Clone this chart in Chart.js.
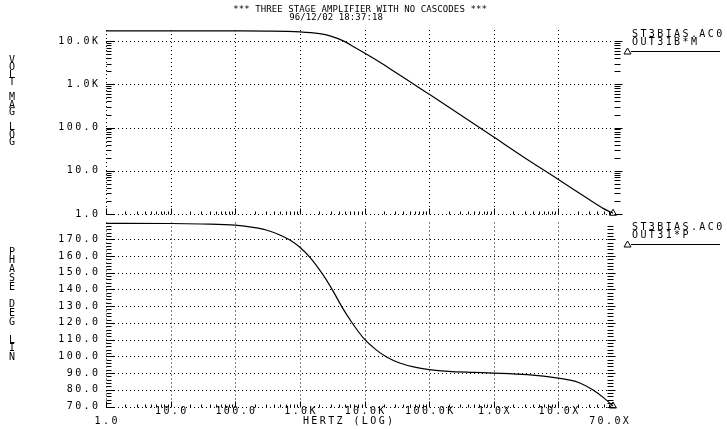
<!DOCTYPE html>
<html>
<head>
<meta charset="utf-8">
<script src="https://cdn.jsdelivr.net/npm/chart.js@4/dist/chart.umd.min.js"></script>
<style>
  html, body { margin: 0; padding: 0; background: #fff; }
  body { width: 727px; height: 429px; position: relative; overflow: hidden; }
  canvas { position: absolute; left: 0; top: 0; }
</style>
</head>
<body>
<canvas id="magChart" width="727" height="429"></canvas>
<canvas id="phaseChart" width="727" height="429"></canvas>
<script>
// values
const magFreq = [1, 10, 100, 300, 1e3, 2e3, 3e3, 4.6e3, 7e3, 1e4, 1.5e4, 2e4, 3e4, 5.5e4, 1e5, 2e5, 1e6, 3e6, 1e7, 3e7, 5e7, 7e7];
const magValue = [17200, 17150, 17100, 17000, 16300, 14800, 13000, 10200, 7200, 5300, 3700, 2820, 1900, 1050, 590, 300, 60, 20, 6.3, 2.16, 1.33, 1.04];

const phaseFreq = [1, 10, 30, 100, 200, 300, 500, 700, 1e3, 1.5e3, 2.3e3, 3.3e3, 4.4e3, 6.3e3, 9.5e3, 1.5e4, 2.2e4, 3.5e4, 6e4, 1e5, 2e5, 5e5, 1e6, 3.3e6, 1e7, 1.5e7, 2.1e7, 3.4e7, 5.1e7, 7e7];
const phaseValue = [179.5, 179.4, 179.1, 178.4, 176.9, 175.5, 172.4, 169.5, 165.2, 158.3, 148.5, 138.7, 130, 120.5, 111.2, 104, 99.6, 96, 93.5, 92.1, 91, 90.4, 90, 89, 87, 85.8, 84.2, 80, 75, 70.3];

const xTicks = [1, 10, 100, 1e3, 1e4, 1e5, 1e6, 1e7];
const xTickLabels = ['1.0', '10.0', '100.0', '1.0K', '10.0K', '100.0K', '1.0X', '10.0X'];
const magTicks = [1, 10, 100, 1e3, 1e4];
const magTickLabels = ['1.0', '10.0', '100.0', '1.0K', '10.0K'];
const phaseTicks = [70, 80, 90, 100, 110, 120, 130, 140, 150, 160, 170];
const phaseTickLabels = ['70.0', '80.0', '90.0', '100.0', '110.0', '120.0', '130.0', '140.0', '150.0', '160.0', '170.0'];

const FONT = '"DejaVu Sans Mono", "Liberation Mono", monospace';

// draw text one char at a time so it gets the wide plotter spacing
function spaced(ctx, text, x, y, size, gap, align) {
  ctx.font = size + 'px ' + FONT;
  ctx.textBaseline = 'middle';
  ctx.textAlign = 'left';
  let w = 0;
  for (const ch of text) w += ctx.measureText(ch).width + gap;
  w -= gap;
  let cx = align === 'right' ? x - w : align === 'center' ? x - w / 2 : x;
  for (const ch of text) {
    ctx.fillText(ch, cx, y);
    cx += ctx.measureText(ch).width + gap;
  }
}

function vertical(ctx, text, x, y, pitch) {
  ctx.font = '10px ' + FONT;
  ctx.textBaseline = 'middle';
  ctx.textAlign = 'center';
  let cy = y;
  for (const ch of text) {
    if (ch !== ' ') ctx.fillText(ch, x, cy);
    cy += pitch;
  }
}

function logMinors(min, max) {
  const out = [];
  for (let d = Math.floor(Math.log10(min)); d <= Math.ceil(Math.log10(max)); d++) {
    for (let m = 2; m <= 9; m++) {
      const v = m * Math.pow(10, d);
      if (v > min && v < max) out.push(v);
    }
  }
  return out;
}

const plotter = {
  id: 'plotter',
  beforeDatasetsDraw(chart, args, opts) {
    const { ctx, chartArea: a } = chart;
    const xs = chart.scales.x, ys = chart.scales.y;
    ctx.save();
    ctx.strokeStyle = '#000';
    ctx.lineWidth = 1;
    // dotted grid
    ctx.setLineDash([1, 3]);
    ctx.beginPath();
    xTicks.forEach(v => {
      const px = Math.round(xs.getPixelForValue(v)) + 0.5;
      ctx.moveTo(px, a.top);
      ctx.lineTo(px, a.bottom);
    });
    opts.yTicks.forEach(v => {
      const py = Math.round(ys.getPixelForValue(v)) + 0.5;
      ctx.moveTo(a.left, py);
      ctx.lineTo(a.right, py);
    });
    ctx.stroke();
    ctx.setLineDash([]);

    // tick marks
    ctx.beginPath();
    const l = Math.round(a.left) + 0.5;
    const r = Math.round(a.right) + 0.5;
    const b = Math.round(a.bottom) + 0.5;
    opts.yMinor.forEach(v => {
      const py = Math.round(ys.getPixelForValue(v)) + 0.5;
      ctx.moveTo(l, py); ctx.lineTo(l + 5, py);
      ctx.moveTo(r + opts.rightOff, py); ctx.lineTo(r + opts.rightOff + 6, py);
    });
    opts.yTicks.forEach(v => {
      const py = Math.round(ys.getPixelForValue(v)) + 0.5;
      ctx.moveTo(l, py); ctx.lineTo(l + 8, py);
      ctx.moveTo(r + opts.rightOff, py); ctx.lineTo(r + opts.rightOff + 8, py);
    });
    logMinors(xs.min, xs.max).forEach(v => {
      const px = Math.round(xs.getPixelForValue(v)) + 0.5;
      ctx.moveTo(px, b); ctx.lineTo(px, b - 3);
    });
    xTicks.forEach(v => {
      const px = Math.round(xs.getPixelForValue(v)) + 0.5;
      ctx.moveTo(px, b); ctx.lineTo(px, b - 6);
    });
    ctx.moveTo(l, b); ctx.lineTo(l + 4, b);
    ctx.moveTo(l, b); ctx.lineTo(l, b - 4);
    ctx.stroke();
    ctx.restore();
  },
  afterDraw(chart, args, opts) {
    const { ctx } = chart;
    const xs = chart.scales.x, ys = chart.scales.y;
    ctx.save();
    ctx.fillStyle = '#000';
    opts.yTicks.forEach((v, i) => {
      spaced(ctx, opts.yLabels[i], 98, ys.getPixelForValue(v), 10, 2.4, 'right');
    });
    vertical(ctx, opts.axisTitle, 12, opts.axisTitleY, opts.axisTitlePitch);

    // legend block at the right
    spaced(ctx, 'ST3BIAS.AC0', 632, opts.legendY, 10, 2.4, 'left');
    spaced(ctx, opts.legendName, 632, opts.legendY + 8, 10, 2.4, 'left');
    const ly = opts.legendY + 17;
    ctx.strokeStyle = '#000';
    ctx.lineWidth = 1;
    ctx.beginPath();
    ctx.moveTo(624, ly + 3); ctx.lineTo(627.5, ly - 3); ctx.lineTo(631, ly + 3); ctx.closePath();
    ctx.moveTo(631, ly + 0.5); ctx.lineTo(720, ly + 0.5);
    ctx.stroke();

    if (opts.xLabels) {
      xTicks.forEach((v, i) => {
        if (i === 0) return;
        spaced(ctx, xTickLabels[i], xs.getPixelForValue(v), 411, 10, 2.4, 'center');
      });
      spaced(ctx, '1.0', xs.getPixelForValue(1), 421, 10, 2.4, 'center');
      spaced(ctx, '70.0X', xs.getPixelForValue(7e7) - 4, 421, 10, 2.4, 'center');
      spaced(ctx, 'HERTZ (LOG)', 348, 421, 10, 2.4, 'center');
    }
    if (opts.title) {
      spaced(ctx, '*** THREE STAGE AMPLIFIER WITH NO CASCODES ***', 360, 10, 9, 0.1, 'center');
      spaced(ctx, '96/12/02 18:37:18', 336, 18, 9, 0.1, 'center');
    }
    ctx.restore();
  }
};

function endMarker(ctx) {
  return ctx.dataIndex === ctx.dataset.data.length - 1 ? 4 : 0;
}

function makeChart(id, freq, values, yScale, pad, pluginOpts) {
  return new Chart(document.getElementById(id), {
    type: 'line',
    data: {
      datasets: [{
        data: freq.map((f, i) => ({ x: f, y: values[i] })),
        borderColor: '#000',
        backgroundColor: 'rgba(0,0,0,0)',
        borderWidth: 1.2,
        cubicInterpolationMode: 'monotone',
        pointStyle: 'triangle',
        pointRadius: endMarker,
        pointBorderColor: '#000',
        pointBorderWidth: 1,
        clip: false
      }]
    },
    plugins: [plotter],
    options: {
      responsive: false,
      animation: false,
      devicePixelRatio: 1,
      layout: { padding: pad },
      scales: {
        x: { type: 'logarithmic', min: 1, max: 7e7, display: false },
        y: Object.assign({ display: false }, yScale)
      },
      plugins: {
        legend: { display: false },
        tooltip: { enabled: false },
        plotter: pluginOpts
      }
    }
  });
}

makeChart('magChart', magFreq, magValue,
  { type: 'logarithmic', min: 1, max: 18000 },
  { left: 106, right: 114, top: 30, bottom: 215 },
  {
    yTicks: magTicks, yLabels: magTickLabels,
    yMinor: logMinors(1, 18000),
    rightOff: 1,
    axisTitle: 'VOLT MAG LOG', axisTitleY: 60, axisTitlePitch: 7.5,
    legendName: 'OUT31B*M', legendY: 34,
    xLabels: false, title: true
  });

makeChart('phaseChart', phaseFreq, phaseValue,
  { type: 'linear', min: 70, max: 180 },
  { left: 106, right: 114, top: 222.5, bottom: 22.5 },
  {
    yTicks: phaseTicks, yLabels: phaseTickLabels,
    yMinor: [72, 74, 76, 78, 82, 84, 86, 88, 92, 94, 96, 98, 102, 104, 106, 108, 112, 114, 116, 118, 122, 124, 126, 128, 132, 134, 136, 138, 142, 144, 146, 148, 152, 154, 156, 158, 162, 164, 166, 168, 172, 174, 176, 178],
    rightOff: -6,
    axisTitle: 'PHASE DEG LIN', axisTitleY: 252, axisTitlePitch: 8.8,
    legendName: 'OUT31*P', legendY: 227,
    xLabels: true, title: false
  });
</script>
</body>
</html>
